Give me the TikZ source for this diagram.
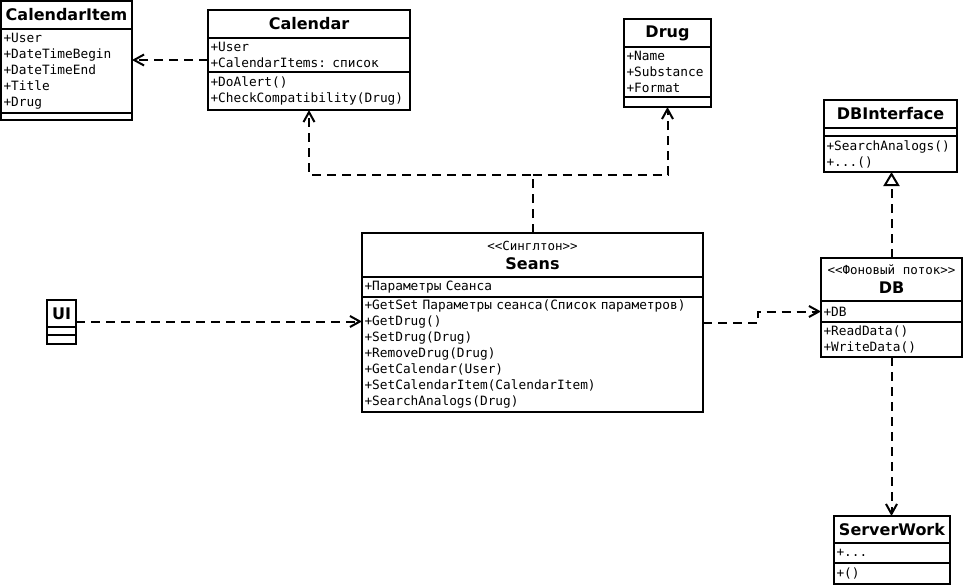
\documentclass[tikz,border=0pt]{standalone}
\usepackage{fontspec}
\setmainfont{DejaVu Sans}
\setmonofont{DejaVu Sans Mono}
\usetikzlibrary{arrows.meta}
\newcommand\stereo{\normalfont\ttfamily\fontsize{12.5}{14}\selectfont}

\begin{document}
\begin{tikzpicture}[x=1pt,y=-1pt,
    title/.style={draw,line width=2pt,outer sep=0pt,anchor=north west,inner sep=0pt,align=center,
      font=\bfseries\fontsize{16}{19}\selectfont},
    part/.style={draw,line width=2pt,outer sep=0pt,anchor=north west,inner xsep=2.5pt,inner ysep=0pt,
      align=left,font=\ttfamily\fontsize{12.8}{16}\selectfont},
    dep/.style={line width=2pt,dash pattern=on 9pt off 6pt,-{Straight Barb[length=10pt,width=11pt]}},
    real/.style={line width=2pt,dash pattern=on 9pt off 6pt,-{Triangle[open,length=14pt,width=16pt]}}]
  \useasboundingbox (0,0) rectangle (964,586);
  % CalendarItem
  \node[title,minimum width=131pt,minimum height=28pt] (itemT) at (1,1) {CalendarItem};
  \node[part,minimum width=131pt,minimum height=84pt,text width=126pt] (itemA) at (itemT.south west)
    {+User\\+DateTimeBegin\\+DateTimeEnd\\+Title\\+Drug};
  \node[part,minimum width=131pt,minimum height=7pt] (itemM) at (itemA.south west) {};
  % Calendar
  \node[title,minimum width=202pt,minimum height=28pt] (calT) at (208,10) {Calendar};
  \node[part,minimum width=202pt,minimum height=34pt,text width=197pt] (calA) at (calT.south west)
    {+User\\+CalendarItems: список};
  \node[part,minimum width=202pt,minimum height=38pt,text width=197pt] (calM) at (calA.south west)
    {+DoAlert()\\+CheckCompatibility(Drug)};
  % Drug
  \node[title,minimum width=87pt,minimum height=28pt] (drugT) at (624,19) {Drug};
  \node[part,minimum width=87pt,minimum height=50pt,text width=82pt] (drugA) at (drugT.south west)
    {+Name\\+Substance\\+Format};
  \node[part,minimum width=87pt,minimum height=10pt] (drugM) at (drugA.south west) {};
  % DBInterface
  \node[title,minimum width=133pt,minimum height=28pt] (ifT) at (824,100) {DBInterface};
  \node[part,minimum width=133pt,minimum height=8pt] (ifA) at (ifT.south west) {};
  \node[part,minimum width=133pt,minimum height=36pt,text width=128pt] (ifM) at (ifA.south west)
    {+SearchAnalogs()\\+...()};
  % Seans
  \node[title,minimum width=341pt,minimum height=44pt] (seansT) at (362,233)
    {{\stereo <{}<Синглтон>{}>}\\Seans};
  \node[part,minimum width=341pt,minimum height=20pt,text width=336pt] (seansA) at (seansT.south west)
    {+Параметры Сеанса};
  \node[part,minimum width=341pt,minimum height=115pt,text width=336pt] (seansM) at (seansA.south west)
    {+GetSet Параметры сеанса(Список параметров)\\+GetDrug()\\+SetDrug(Drug)\\+RemoveDrug(Drug)\\
     +GetCalendar(User)\\+SetCalendarItem(CalendarItem)\\+SearchAnalogs(Drug)};
  % DB
  \node[title,minimum width=141pt,minimum height=43pt] (dbT) at (821,258)
    {{\stereo <{}<Фоновый поток>{}>}\\DB};
  \node[part,minimum width=141pt,minimum height=21pt,text width=136pt] (dbA) at (dbT.south west) {+DB};
  \node[part,minimum width=141pt,minimum height=35pt,text width=136pt] (dbM) at (dbA.south west)
    {+ReadData()\\+WriteData()};
  % UI
  \node[title,minimum width=29pt,minimum height=27pt] (uiT) at (47,300) {UI};
  \node[part,minimum width=29pt,minimum height=8pt] (uiA) at (uiT.south west) {};
  \node[part,minimum width=29pt,minimum height=9pt] (uiM) at (uiA.south west) {};
  % ServerWork
  \node[title,minimum width=116pt,minimum height=27pt] (swT) at (834,516) {ServerWork};
  \node[part,minimum width=116pt,minimum height=20pt,text width=111pt] (swA) at (swT.south west) {+...};
  \node[part,minimum width=116pt,minimum height=21pt,text width=111pt] (swM) at (swA.south west) {+()};

  \coordinate (c1) at ([yshift=-5pt]calA.west);
  \coordinate (fork) at (seansT.north |- 0,175);
  \coordinate (u1) at ([yshift=-8pt]uiT.east);
  \coordinate (s1) at ([yshift=-26pt]seansM.north east);
  \begin{scope}[dep]
    \draw (c1) -- (c1 -| itemA.east);
    \draw (seansT.north) -- (fork) -| (calM.south);
    \draw (fork) -| (drugM.south);
    \draw (u1) -- (u1 -| seansM.west);
    \draw (s1) -- ++(55,0) |- (dbA.west);
    \draw (dbM.south) -- (dbM.south |- swT.north);
  \end{scope}
  \draw[real] (dbT.north) -- (dbT.north |- ifM.south);
\end{tikzpicture}
\end{document}
